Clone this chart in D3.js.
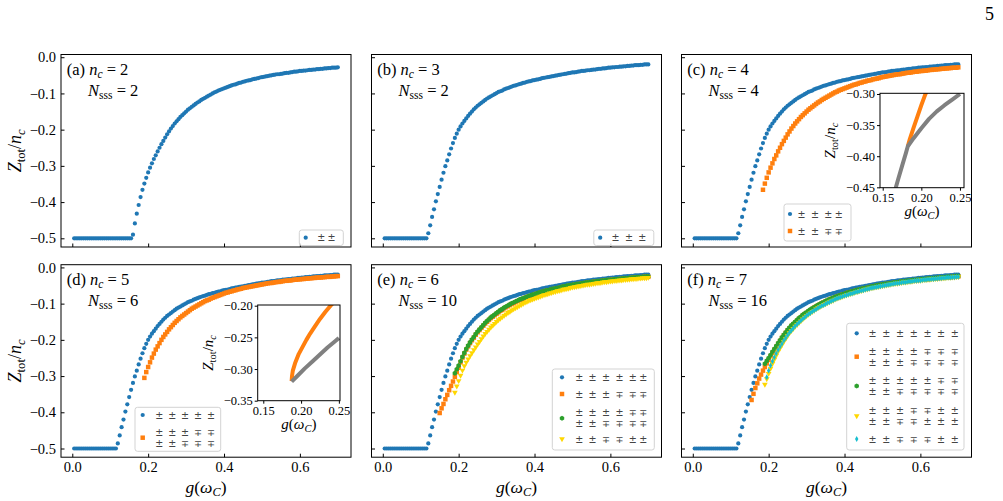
<!DOCTYPE html>
<html>
<head>
<meta charset="utf-8">
<script src="https://cdn.jsdelivr.net/npm/d3@7"></script>
<style>
  body { margin: 0; background: #fff; }
  svg { display: block; }
</style>
</head>
<body>
<svg id="fig" width="1003" height="501"></svg>
<script>
(function () {
  const SERIF = '"Liberation Serif", "Times New Roman", serif';

  // ---- data: g(omega_C) sweep and Z_tot/n_c per state (each series ends at g = 0.7) ----
  const gGrid = [0.005,0.01,0.015,0.02,0.025,0.03,0.035,0.04,0.045,0.05,0.055,0.06,0.065,0.07,0.075,0.08,0.085,0.09,0.095,0.1,
    0.105,0.11,0.115,0.12,0.125,0.13,0.135,0.14,0.145,0.15,0.155,0.16,0.165,0.17,0.175,0.18,0.185,0.19,0.195,0.2,
    0.205,0.21,0.215,0.22,0.225,0.23,0.235,0.24,0.245,0.25,0.255,0.26,0.265,0.27,0.275,0.28,0.285,0.29,0.295,0.3,
    0.305,0.31,0.315,0.32,0.325,0.33,0.335,0.34,0.345,0.35,0.355,0.36,0.365,0.37,0.375,0.38,0.385,0.39,0.395,0.4,
    0.405,0.41,0.415,0.42,0.425,0.43,0.435,0.44,0.445,0.45,0.455,0.46,0.465,0.47,0.475,0.48,0.485,0.49,0.495,0.5,
    0.505,0.51,0.515,0.52,0.525,0.53,0.535,0.54,0.545,0.55,0.555,0.56,0.565,0.57,0.575,0.58,0.585,0.59,0.595,0.6,
    0.605,0.61,0.615,0.62,0.625,0.63,0.635,0.64,0.645,0.65,0.655,0.66,0.665,0.67,0.675,0.68,0.685,0.69,0.695,0.7];

  // (a) n_c = 2, all-± state
  const zPm2 = [-0.5,-0.5,-0.5,-0.5,-0.5,-0.5,-0.5,-0.5,-0.5,-0.5,-0.5,-0.5,-0.5,-0.5,-0.5,-0.5,-0.5,-0.5,-0.5,-0.5,
    -0.5,-0.5,-0.5,-0.5,-0.5,-0.5,-0.5,-0.5,-0.5,-0.5,-0.5,
    -0.490,-0.459,-0.432,-0.408,-0.386,-0.366,-0.349,-0.333,-0.318,-0.305,
    -0.293,-0.281,-0.271,-0.260,-0.250,-0.240,-0.231,-0.222,-0.213,-0.205,
    -0.197,-0.190,-0.183,-0.177,-0.171,-0.165,-0.160,-0.155,-0.150,-0.145,
    -0.141,-0.137,-0.133,-0.129,-0.125,-0.122,-0.118,-0.115,-0.112,-0.109,
    -0.106,-0.103,-0.100,-0.097,-0.095,-0.092,-0.090,-0.088,-0.086,-0.084,
    -0.082,-0.080,-0.078,-0.076,-0.075,-0.073,-0.071,-0.070,-0.068,-0.067,
    -0.065,-0.064,-0.063,-0.061,-0.060,-0.059,-0.058,-0.056,-0.055,-0.054,
    -0.053,-0.052,-0.051,-0.050,-0.049,-0.048,-0.047,-0.047,-0.046,-0.045,
    -0.044,-0.043,-0.043,-0.042,-0.041,-0.040,-0.040,-0.039,-0.038,-0.038,
    -0.037,-0.037,-0.036,-0.035,-0.035,-0.034,-0.034,-0.033,-0.033,-0.032,
    -0.032,-0.031,-0.031,-0.030,-0.030,-0.029,-0.029,-0.029,-0.028];

  // all-± state for n_c >= 3
  const zPm = [-0.5,-0.5,-0.5,-0.5,-0.5,-0.5,-0.5,-0.5,-0.5,-0.5,-0.5,-0.5,-0.5,-0.5,-0.5,-0.5,-0.5,-0.5,-0.5,-0.5,
    -0.5,-0.5,-0.5,
    -0.486,-0.464,-0.441,-0.420,-0.398,-0.378,-0.358,-0.338,-0.319,-0.301,
    -0.285,-0.268,-0.252,-0.237,-0.223,-0.211,-0.200,-0.191,-0.183,-0.176,
    -0.169,-0.162,-0.156,-0.150,-0.144,-0.139,-0.134,-0.130,-0.126,-0.122,
    -0.118,-0.114,-0.111,-0.108,-0.105,-0.102,-0.099,-0.096,-0.094,-0.092,
    -0.089,-0.087,-0.085,-0.083,-0.081,-0.079,-0.078,-0.076,-0.074,-0.073,
    -0.071,-0.070,-0.068,-0.067,-0.066,-0.064,-0.063,-0.062,-0.061,-0.060,
    -0.058,-0.057,-0.056,-0.055,-0.054,-0.053,-0.052,-0.051,-0.050,-0.049,
    -0.048,-0.047,-0.046,-0.045,-0.044,-0.043,-0.042,-0.042,-0.041,-0.040,
    -0.039,-0.038,-0.038,-0.037,-0.036,-0.036,-0.035,-0.034,-0.034,-0.033,
    -0.032,-0.032,-0.031,-0.031,-0.030,-0.029,-0.029,-0.028,-0.028,-0.027,
    -0.027,-0.026,-0.026,-0.025,-0.025,-0.024,-0.024,-0.023,-0.023,-0.022,
    -0.022,-0.022,-0.021,-0.021,-0.020,-0.020,-0.020];

  // (c) ±±∓∓
  const zC2 = [-0.366,-0.349,-0.333,-0.318,-0.305,
    -0.293,-0.281,-0.271,-0.260,-0.250,-0.240,-0.231,-0.222,-0.213,-0.205,
    -0.197,-0.190,-0.183,-0.177,-0.171,-0.165,-0.160,-0.155,-0.150,-0.145,
    -0.141,-0.137,-0.133,-0.129,-0.125,-0.122,-0.118,-0.115,-0.112,-0.109,
    -0.106,-0.103,-0.100,-0.097,-0.095,-0.092,-0.090,-0.088,-0.086,-0.084,
    -0.082,-0.080,-0.078,-0.076,-0.075,-0.073,-0.071,-0.070,-0.068,-0.067,
    -0.065,-0.064,-0.063,-0.061,-0.060,-0.059,-0.058,-0.056,-0.055,-0.054,
    -0.053,-0.052,-0.051,-0.050,-0.049,-0.048,-0.047,-0.047,-0.046,-0.045,
    -0.044,-0.043,-0.043,-0.042,-0.041,-0.040,-0.040,-0.039,-0.038,-0.038,
    -0.037,-0.037,-0.036,-0.035,-0.035,-0.034,-0.034,-0.033,-0.033,-0.032,
    -0.032,-0.031,-0.031,-0.030,-0.030,-0.029,-0.029,-0.029,-0.028];

  // (d) second state
  const zD2 = [-0.305,-0.289,-0.275,-0.262,-0.249,-0.238,-0.227,-0.218,-0.209,-0.200,
    -0.192,-0.185,-0.178,-0.171,-0.165,-0.159,-0.153,-0.148,-0.143,-0.138,
    -0.134,-0.130,-0.126,-0.122,-0.118,-0.114,-0.111,-0.108,-0.105,-0.102,
    -0.099,-0.096,-0.093,-0.091,-0.089,-0.086,-0.084,-0.082,-0.080,-0.078,
    -0.076,-0.074,-0.072,-0.070,-0.069,-0.067,-0.066,-0.064,-0.063,-0.061,
    -0.060,-0.059,-0.057,-0.056,-0.055,-0.054,-0.053,-0.052,-0.051,-0.050,
    -0.049,-0.048,-0.047,-0.046,-0.045,-0.044,-0.043,-0.043,-0.042,-0.041,
    -0.040,-0.040,-0.039,-0.038,-0.037,-0.037,-0.036,-0.036,-0.035,-0.034,
    -0.034,-0.033,-0.033,-0.032,-0.032,-0.031,-0.031,-0.030,-0.030,-0.029,
    -0.029,-0.028,-0.028,-0.028,-0.027,-0.027,-0.026,-0.026,-0.026,-0.025,
    -0.025,-0.024,-0.024];

  // (e) states 2-4
  const zE2 = [-0.402,-0.389,-0.377,-0.364,-0.352,-0.339,-0.327,-0.315,-0.302,-0.289,
    -0.277,-0.262,-0.249,-0.238,-0.227,-0.218,-0.209,-0.201,-0.194,-0.186,
    -0.179,-0.173,-0.167,-0.161,-0.155,-0.150,-0.145,-0.140,-0.136,-0.132,
    -0.128,-0.124,-0.120,-0.117,-0.113,-0.110,-0.107,-0.104,-0.101,-0.099,
    -0.096,-0.093,-0.091,-0.089,-0.087,-0.084,-0.082,-0.080,-0.079,-0.077,
    -0.075,-0.073,-0.072,-0.070,-0.068,-0.067,-0.065,-0.064,-0.063,-0.061,
    -0.060,-0.059,-0.058,-0.057,-0.055,-0.054,-0.053,-0.052,-0.051,-0.050,
    -0.049,-0.048,-0.047,-0.046,-0.046,-0.045,-0.044,-0.043,-0.042,-0.042,
    -0.041,-0.040,-0.040,-0.039,-0.038,-0.038,-0.037,-0.036,-0.036,-0.035,
    -0.035,-0.034,-0.034,-0.033,-0.033,-0.032,-0.032,-0.031,-0.031,-0.030,
    -0.030,-0.029,-0.029,-0.028,-0.028,-0.028,-0.027,-0.027,-0.026,-0.026,
    -0.026];
  const zE3 = [-0.292,-0.281,-0.271,-0.259,-0.247,-0.236,-0.225,-0.216,-0.207,-0.199,
    -0.192,-0.184,-0.177,-0.171,-0.165,-0.159,-0.153,-0.148,-0.143,-0.138,
    -0.134,-0.130,-0.126,-0.122,-0.118,-0.115,-0.111,-0.108,-0.105,-0.102,
    -0.099,-0.097,-0.094,-0.092,-0.089,-0.087,-0.085,-0.083,-0.081,-0.079,
    -0.077,-0.075,-0.074,-0.072,-0.070,-0.069,-0.067,-0.066,-0.064,-0.063,
    -0.062,-0.060,-0.059,-0.058,-0.057,-0.056,-0.054,-0.053,-0.052,-0.051,
    -0.050,-0.049,-0.048,-0.047,-0.046,-0.046,-0.045,-0.044,-0.043,-0.042,
    -0.042,-0.041,-0.040,-0.040,-0.039,-0.038,-0.038,-0.037,-0.036,-0.036,
    -0.035,-0.035,-0.034,-0.034,-0.033,-0.033,-0.032,-0.032,-0.031,-0.031,
    -0.030,-0.030,-0.029,-0.029,-0.028,-0.028,-0.027,-0.027,-0.027,-0.026,
    -0.026,-0.025,-0.025];
  const zE4 = [-0.345,-0.328,-0.313,-0.298,-0.284,-0.272,-0.262,-0.253,-0.244,-0.236,
    -0.228,-0.220,-0.212,-0.205,-0.197,-0.190,-0.183,-0.177,-0.171,-0.165,
    -0.160,-0.155,-0.150,-0.145,-0.141,-0.137,-0.133,-0.129,-0.125,-0.122,
    -0.118,-0.115,-0.112,-0.109,-0.106,-0.103,-0.100,-0.097,-0.095,-0.092,
    -0.090,-0.088,-0.086,-0.084,-0.082,-0.080,-0.078,-0.076,-0.075,-0.073,
    -0.071,-0.070,-0.068,-0.067,-0.065,-0.064,-0.063,-0.061,-0.060,-0.059,
    -0.058,-0.056,-0.055,-0.054,-0.053,-0.052,-0.051,-0.050,-0.049,-0.048,
    -0.047,-0.047,-0.046,-0.045,-0.044,-0.043,-0.043,-0.042,-0.041,-0.040,
    -0.040,-0.039,-0.038,-0.038,-0.037,-0.037,-0.036,-0.035,-0.035,-0.034,
    -0.034,-0.033,-0.033,-0.032,-0.032,-0.031,-0.031,-0.030,-0.030,-0.029,
    -0.029,-0.029,-0.028];

  // (f) states 2-5
  const zF2 = [-0.366,-0.349,-0.333,-0.320,-0.307,-0.296,-0.285,-0.275,-0.265,-0.255,
    -0.245,-0.236,-0.227,-0.219,-0.211,-0.203,-0.195,-0.188,-0.181,-0.174,
    -0.168,-0.162,-0.157,-0.152,-0.147,-0.142,-0.138,-0.133,-0.129,-0.126,
    -0.122,-0.118,-0.115,-0.111,-0.108,-0.105,-0.102,-0.099,-0.097,-0.094,
    -0.092,-0.089,-0.087,-0.085,-0.083,-0.081,-0.079,-0.077,-0.075,-0.074,
    -0.072,-0.070,-0.069,-0.067,-0.066,-0.064,-0.063,-0.062,-0.060,-0.059,
    -0.058,-0.057,-0.056,-0.054,-0.053,-0.052,-0.051,-0.050,-0.049,-0.048,
    -0.047,-0.046,-0.046,-0.045,-0.044,-0.043,-0.042,-0.042,-0.041,-0.040,
    -0.040,-0.039,-0.038,-0.038,-0.037,-0.036,-0.036,-0.035,-0.035,-0.034,
    -0.034,-0.033,-0.033,-0.032,-0.032,-0.031,-0.031,-0.030,-0.030,-0.029,
    -0.029,-0.028,-0.028,-0.027,-0.027,-0.027,-0.026,-0.026,-0.025,-0.025];
  const zF3 = [-0.266,-0.258,-0.250,-0.242,-0.233,-0.225,-0.217,-0.209,-0.201,-0.193,
    -0.186,-0.179,-0.172,-0.166,-0.160,-0.155,-0.150,-0.145,-0.140,-0.136,
    -0.131,-0.127,-0.124,-0.120,-0.116,-0.113,-0.110,-0.107,-0.104,-0.101,
    -0.098,-0.096,-0.093,-0.091,-0.088,-0.086,-0.084,-0.082,-0.080,-0.078,
    -0.076,-0.074,-0.073,-0.071,-0.069,-0.068,-0.066,-0.065,-0.063,-0.062,
    -0.061,-0.059,-0.058,-0.057,-0.056,-0.055,-0.053,-0.052,-0.051,-0.050,
    -0.049,-0.048,-0.047,-0.046,-0.045,-0.045,-0.044,-0.043,-0.042,-0.041,
    -0.041,-0.040,-0.039,-0.039,-0.038,-0.037,-0.037,-0.036,-0.035,-0.035,
    -0.034,-0.034,-0.033,-0.033,-0.032,-0.032,-0.031,-0.031,-0.030,-0.030,
    -0.029,-0.029,-0.028,-0.028,-0.027,-0.027,-0.026,-0.026,-0.026,-0.025,
    -0.025,-0.024,-0.024];
  const zF4 = [-0.323,-0.308,-0.293,-0.279,-0.266,-0.254,-0.243,-0.232,-0.223,-0.214,
    -0.205,-0.197,-0.189,-0.181,-0.175,-0.169,-0.163,-0.158,-0.153,-0.148,
    -0.143,-0.138,-0.134,-0.130,-0.126,-0.122,-0.119,-0.115,-0.112,-0.109,
    -0.106,-0.103,-0.101,-0.098,-0.095,-0.093,-0.091,-0.088,-0.086,-0.084,
    -0.082,-0.080,-0.078,-0.076,-0.075,-0.073,-0.071,-0.070,-0.068,-0.067,
    -0.065,-0.064,-0.062,-0.061,-0.060,-0.058,-0.057,-0.056,-0.055,-0.054,
    -0.053,-0.052,-0.051,-0.050,-0.049,-0.048,-0.047,-0.046,-0.045,-0.044,
    -0.044,-0.043,-0.042,-0.041,-0.041,-0.040,-0.039,-0.039,-0.038,-0.037,
    -0.037,-0.036,-0.036,-0.035,-0.034,-0.034,-0.033,-0.033,-0.032,-0.032,
    -0.031,-0.031,-0.030,-0.030,-0.029,-0.029,-0.028,-0.028,-0.028,-0.027,
    -0.027,-0.026,-0.026];
  const zF5 = [-0.303,-0.285,-0.271,-0.259,-0.248,-0.238,-0.228,-0.219,-0.211,-0.202,
    -0.195,-0.187,-0.180,-0.174,-0.168,-0.162,-0.157,-0.152,-0.147,-0.142,
    -0.138,-0.133,-0.129,-0.126,-0.122,-0.119,-0.116,-0.112,-0.109,-0.106,
    -0.104,-0.101,-0.098,-0.096,-0.093,-0.091,-0.088,-0.086,-0.084,-0.082,
    -0.080,-0.078,-0.077,-0.075,-0.073,-0.072,-0.070,-0.068,-0.067,-0.065,
    -0.064,-0.063,-0.061,-0.060,-0.059,-0.057,-0.056,-0.055,-0.054,-0.053,
    -0.052,-0.051,-0.050,-0.049,-0.048,-0.047,-0.046,-0.045,-0.044,-0.044,
    -0.043,-0.042,-0.041,-0.041,-0.040,-0.039,-0.039,-0.038,-0.037,-0.037,
    -0.036,-0.036,-0.035,-0.034,-0.034,-0.033,-0.033,-0.032,-0.032,-0.031,
    -0.031,-0.030,-0.030,-0.029,-0.029,-0.028,-0.028,-0.028,-0.027,-0.027,
    -0.026,-0.026];

  // insets (fine sweep near the branch point)
  const insetCgOr = [0.1825,0.185,0.19,0.195,0.2,0.205,0.21];
  const insetCzOr = [-0.384,-0.373,-0.354,-0.336,-0.318,-0.301,-0.287];
  const insetCgGr = [0.165,0.17,0.175,0.18,0.1825,0.19,0.2,0.21,0.22,0.23,0.24,0.25];
  const insetCzGr = [-0.459,-0.437,-0.416,-0.395,-0.384,-0.371,-0.355,-0.340,-0.328,-0.318,-0.309,-0.300];
  const insetDgOr = [0.1875,0.188,0.189,0.192,0.197,0.202,0.207,0.212,0.217,0.225,0.232,0.239,0.245];
  const insetDzOr = [-0.319,-0.311,-0.303,-0.291,-0.276,-0.265,-0.254,-0.244,-0.235,-0.221,-0.210,-0.200,-0.192];
  const insetDgGr = [0.1875,0.195,0.205,0.215,0.225,0.235,0.245,0.25];
  const insetDzGr = [-0.320,-0.311,-0.299,-0.288,-0.277,-0.266,-0.256,-0.251];

  const xTicks = [0, 0.2, 0.4, 0.6];
  const yTicks = [0, -0.1, -0.2, -0.3, -0.4, -0.5];

  const panels = [
    { tag: '(a)', nc: 2, nsss: 2, col: 0, row: 0,
      series: [{ z: zPm2, mk: 'c0', label: '±±' }] },
    { tag: '(b)', nc: 3, nsss: 2, col: 1, row: 0,
      series: [{ z: zPm, mk: 'c0', label: '±±±' }] },
    { tag: '(c)', nc: 4, nsss: 4, col: 2, row: 0,
      series: [{ z: zPm, mk: 'c0', label: '±±±±' }, { z: zC2, mk: 'c1', label: '±±∓∓' }] },
    { tag: '(d)', nc: 5, nsss: 6, col: 0, row: 1,
      series: [{ z: zPm, mk: 'c0', label: '±±±±±' }, { z: zD2, mk: 'c1', label: '±±±∓∓\n±±∓∓∓' }] },
    { tag: '(e)', nc: 6, nsss: 10, col: 1, row: 1,
      series: [{ z: zPm, mk: 'c0', label: '±±±±±±' }, { z: zE2, mk: 'c1', label: '±±±∓∓∓' },
               { z: zE3, mk: 'c2', label: '±±±±∓∓\n±±∓∓∓∓' }, { z: zE4, mk: 'c3', label: '±±∓∓±±' }] },
    { tag: '(f)', nc: 7, nsss: 16, col: 2, row: 1,
      series: [{ z: zPm, mk: 'c0', label: '±±±±±±±' }, { z: zF2, mk: 'c1', label: '±±±±∓∓∓\n±±±∓∓∓∓' },
               { z: zF3, mk: 'c2', label: '±±±±±∓∓\n±±∓∓∓∓∓' }, { z: zF4, mk: 'c3', label: '±±±∓∓±±\n±±∓∓±±±' },
               { z: zF5, mk: 'c4', label: '±±∓∓∓±±' }] }
  ];

  // ---- layout ----
  const svg = d3.select('#fig');
  const colLeft = [61, 371.5, 681.5];
  const rowTop = [54.5, 264.7];
  const pw = 290, ph = 192.5;

  const x = d3.scaleLinear().domain([-0.02975, 0.73475]).range([0, pw]);
  const y = d3.scaleLinear().domain([-0.524, 0.0075]).range([ph, 0]);

  // legend boxes (page pixels)
  const legendLayout = [
    { x: 299.3, y: 230, w: 44, h: 15.5, mx: 305.7, tx: 316, em: 13.4, rows: [237.7] },
    { x: 593.8, y: 230, w: 60, h: 15.5, mx: 600.2, tx: 610.3, em: 13.4, rows: [237.7] },
    { x: 784, y: 204, w: 67, h: 37, mx: 790, tx: 796.3, em: 13.4, rows: [214, 231] },
    { x: 135, y: 407.3, w: 85.7, h: 44, mx: 142.7, tx: 154.3, em: 12.9, rows: [415, 437.7] },
    { x: 552.3, y: 369, w: 102, h: 81, mx: 562, tx: 574, em: 13.4, rows: [377.3, 394, 418.3, 439] },
    { x: 846.7, y: 323.3, w: 117.3, h: 126.7, mx: 856.7, tx: 867.3, em: 13.7, rows: [333.3, 356.7, 386, 416, 439] }
  ];

  const symbolHexagon = {
    draw(ctx, size) {
      const r = Math.sqrt(size / (1.5 * Math.sqrt(3)));
      for (let i = 0; i < 6; i++) {
        const a = Math.PI / 3 * i - Math.PI / 2;
        if (i === 0) ctx.moveTo(r * Math.cos(a), r * Math.sin(a));
        else ctx.lineTo(r * Math.cos(a), r * Math.sin(a));
      }
      ctx.closePath();
    }
  };

  const markers = {
    c0: { color: '#1f77b4', path: d3.symbol().type(d3.symbolCircle).size(14)(), rot: 0 },
    c1: { color: '#ff7f0e', path: d3.symbol().type(d3.symbolSquare).size(20)(), rot: 0 },
    c2: { color: '#2ca02c', path: d3.symbol().type(symbolHexagon).size(17)(), rot: 0 },
    c3: { color: '#ffd700', path: d3.symbol().type(d3.symbolTriangle).size(14)(), rot: 180 },
    c4: { color: '#17becf', path: d3.symbol().type(d3.symbolDiamond).size(10)(), rot: 0 }
  };

  function serifText(parent, fs) {
    return parent.append('text').attr('font-family', SERIF).attr('font-size', fs).attr('fill', '#000');
  }

  function mathText(sel, parts, fs) {
    let shift = 0;
    parts.forEach(p => {
      const t = sel.append('tspan').text(p.t);
      if (p.it) t.attr('font-style', 'italic');
      const target = p.sub ? fs * 0.2 : 0;
      if (target !== shift) { t.attr('dy', target - shift); shift = target; }
      if (p.sub) t.attr('font-size', fs * 0.7);
    });
    return sel;
  }
  const zLabel = [{ t: 'Z', it: 1 }, { t: 'tot', sub: 1 }, { t: '/' }, { t: 'n', it: 1 }, { t: 'c', it: 1, sub: 1 }];
  const gLabel = [{ t: 'g', it: 1 }, { t: '(' }, { t: 'ω', it: 1 }, { t: 'C', it: 1, sub: 1 }, { t: ')' }];

  // TeX-like spacing of a run of binary ± / ∓ symbols
  function glyphCenters(str, x0, em) {
    const chars = Array.from(str);
    const n = chars.length, w = 0.778 * em, med = 0.222 * em;
    const types = [];
    chars.forEach((c, i) => {
      if (i === 0 || types[i - 1] === 'bin' || i === n - 1) types.push('ord');
      else types.push('bin');
    });
    const xs = [];
    let cur = x0;
    types.forEach((t, i) => {
      if (i > 0 && (t === 'bin' || types[i - 1] === 'bin')) cur += med;
      xs.push(cur + w / 2);
      cur += w;
    });
    return xs;
  }

  function styleAxis(sel, fs) {
    sel.attr('font-size', fs).attr('font-family', SERIF);
    sel.select('.domain').remove();
    sel.selectAll('text').attr('font-family', SERIF).attr('font-size', fs);
  }

  panels.forEach((p, pi) => {
    const left = colLeft[p.col], top = rowTop[p.row];
    const g = svg.append('g').attr('transform', `translate(${left},${top})`);

    // points
    p.series.forEach(s => {
      const off = gGrid.length - s.z.length;
      const pts = s.z.map((v, k) => [gGrid[off + k], v]);
      const m = markers[s.mk];
      g.append('g').selectAll('path').data(pts).join('path')
        .attr('d', m.path)
        .attr('fill', m.color)
        .attr('transform', d => `translate(${x(d[0])},${y(d[1])})` + (m.rot ? ` rotate(${m.rot})` : ''));
    });

    // axes (inward ticks)
    const ya = g.append('g')
      .call(d3.axisLeft(y).tickValues(yTicks).tickSize(-3.5).tickPadding(5)
        .tickFormat(p.col === 0 ? d3.format('.1f') : () => ''));
    styleAxis(ya, 14.5);
    const xa = g.append('g').attr('transform', `translate(0,${ph})`)
      .call(d3.axisBottom(x).tickValues(xTicks).tickSize(-3.5).tickPadding(5)
        .tickFormat(p.row === 1 ? d3.format('.1f') : () => ''));
    styleAxis(xa, 14.5);

    g.append('rect').attr('width', pw).attr('height', ph)
      .attr('fill', 'none').attr('stroke', '#000').attr('stroke-width', 1);

    // annotation
    mathText(serifText(g, 16.5).attr('x', 5.7).attr('y', 20),
      [{ t: p.tag + ' ' }, { t: 'n', it: 1 }, { t: 'c', it: 1, sub: 1 }, { t: ' = ' + p.nc }], 16.5);
    mathText(serifText(g, 16.5).attr('x', 27).attr('y', 41.5),
      [{ t: 'N', it: 1 }, { t: 'sss', sub: 1 }, { t: ' = ' + p.nsss }], 16.5);

    if (p.col === 0) {
      mathText(serifText(svg, 18).attr('text-anchor', 'middle')
        .attr('transform', `translate(21,${top + ph / 2}) rotate(-90)`), zLabel, 18);
    }
    if (p.row === 1) {
      mathText(serifText(svg, 17.5).attr('text-anchor', 'middle')
        .attr('x', left + pw / 2).attr('y', 492.5), gLabel, 17.5);
    }

    // legend
    const lg = legendLayout[pi];
    const lgG = svg.append('g');
    lgG.append('rect').attr('x', lg.x).attr('y', lg.y).attr('width', lg.w).attr('height', lg.h)
      .attr('rx', 2.5).attr('fill', '#fff').attr('fill-opacity', 0.8)
      .attr('stroke', '#d3d3d3').attr('stroke-width', 1);
    p.series.forEach((s, i) => {
      const cy = lg.rows[i];
      const m = markers[s.mk];
      lgG.append('path').attr('d', m.path).attr('fill', m.color)
        .attr('transform', `translate(${lg.mx},${cy})` + (m.rot ? ` rotate(${m.rot})` : ''));
      const lines = s.label.split('\n');
      const t = lgG.append('text')
        .attr('font-family', '"DejaVu Sans", sans-serif').attr('font-size', 9.6)
        .attr('fill', '#444').attr('text-anchor', 'middle');
      lines.forEach((line, li) => {
        const ly = cy + (li - (lines.length - 1) / 2) * 11.2;
        t.append('tspan')
          .attr('x', glyphCenters(line, lg.tx, lg.em).join(' '))
          .attr('y', ly + 3.5)
          .text(line);
      });
    });
  });

  // ---- insets ----
  function drawInset(id, box, xd, yd, xt, yt, lines, lw) {
    const ix = d3.scaleLinear().domain(xd).range([0, box.w]);
    const iy = d3.scaleLinear().domain(yd).range([box.h, 0]);
    const g = svg.append('g').attr('transform', `translate(${box.x},${box.y})`);
    g.append('rect').attr('width', box.w).attr('height', box.h).attr('fill', '#fff');
    g.append('clipPath').attr('id', id).append('rect').attr('width', box.w).attr('height', box.h);
    const line = d3.line().x(d => ix(d[0])).y(d => iy(d[1]));
    lines.forEach(l => {
      g.append('path').datum(l.gs.map((v, k) => [v, l.zs[k]]))
        .attr('d', line).attr('fill', 'none').attr('stroke', l.color)
        .attr('stroke-width', lw).attr('stroke-linejoin', 'round')
        .attr('clip-path', `url(#${id})`);
    });
    const fmt2 = d3.format('.2f');
    const ya = g.append('g')
      .call(d3.axisLeft(iy).tickValues(yt).tickSize(3).tickPadding(2).tickFormat(fmt2));
    styleAxis(ya, 12.5);
    const xa = g.append('g').attr('transform', `translate(0,${box.h})`)
      .call(d3.axisBottom(ix).tickValues(xt).tickSize(3).tickPadding(2).tickFormat(fmt2));
    styleAxis(xa, 12.5);
    g.append('rect').attr('width', box.w).attr('height', box.h)
      .attr('fill', 'none').attr('stroke', '#000').attr('stroke-width', 1);
    mathText(serifText(g, 15).attr('text-anchor', 'middle')
      .attr('x', box.w / 2).attr('y', box.h + 28), gLabel, 15);
    mathText(serifText(g, 15).attr('text-anchor', 'middle')
      .attr('transform', `translate(-45,${box.h / 2}) rotate(-90)`), zLabel, 15);
  }

  drawInset('clipC', { x: 880, y: 93.3, w: 84, h: 94.4 }, [0.1465, 0.2552], [-0.4506, -0.2989],
    [0.15, 0.2, 0.25], [-0.3, -0.35, -0.4, -0.45],
    [{ gs: insetCgOr, zs: insetCzOr, color: '#ff7f0e' }, { gs: insetCgGr, zs: insetCzGr, color: '#808080' }], 4);
  drawInset('clipD', { x: 257.7, y: 305, w: 82.3, h: 95.7 }, [0.1426, 0.2515], [-0.35, -0.1989],
    [0.15, 0.2, 0.25], [-0.2, -0.25, -0.3, -0.35],
    [{ gs: insetDgOr, zs: insetDzOr, color: '#ff7f0e' }, { gs: insetDgGr, zs: insetDzGr, color: '#808080' }], 4);

  // page number
  serifText(svg, 18).attr('x', 985).attr('y', 20).text('5');
})();
</script>
</body>
</html>
